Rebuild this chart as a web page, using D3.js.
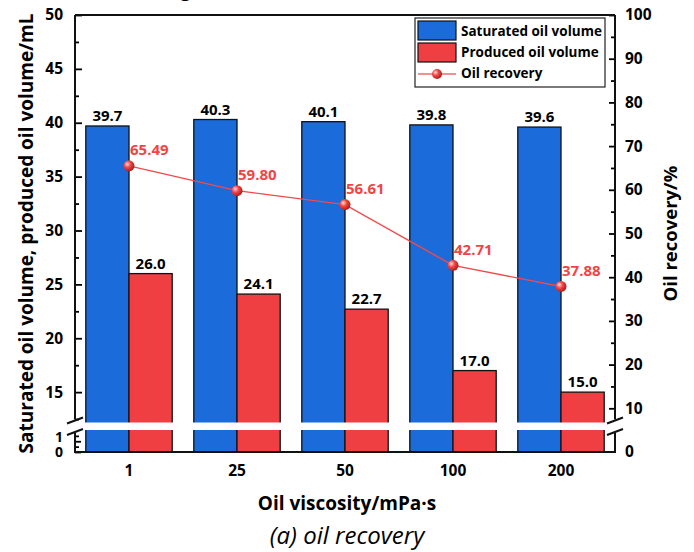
<!DOCTYPE html>
<html>
<head>
<meta charset="utf-8">
<script src="https://cdn.jsdelivr.net/npm/d3@7"></script>
<style>
  body { margin: 0; background: #fff; }
  svg { display: block; font-family: "Open Sans", sans-serif; }
</style>
</head>
<body>
<svg id="chart" width="694" height="552"></svg>
<script>
// data
const categories = ["1", "25", "50", "100", "200"];
const saturated = [39.7, 40.3, 40.1, 39.8, 39.6];
const produced = [26.0, 24.1, 22.7, 17.0, 15.0];
const recovery = [65.49, 59.80, 56.61, 42.71, 37.88];
const leftMajor = [15, 20, 25, 30, 35, 40, 45, 50];
const leftMinor = [12.5, 17.5, 22.5, 27.5, 32.5, 37.5, 42.5, 47.5];
const leftLowMajor = [0, 1];
const leftLowMinor = [0.5, 1.5];
const rightMajor = [0, 10, 20, 30, 40, 50, 60, 70, 80, 90, 100];
const rightMinor = [5, 15, 25, 35, 45, 55, 65, 75, 85, 95];

const svg = d3.select("#chart");
const plotL = 75, plotR = 615, plotT = 15, plotB = 452;
const gapTop = 422.5, gapBot = 430;

// broken left axis: 0..2 below the gap, 12.2..50 above it
const y = d3.scaleLinear()
  .domain([0, 2, 12.2, 50])
  .range([plotB, 430.5, 422.3, plotT]);
const y2 = d3.scaleLinear().domain([0, 100]).range([plotB, plotT]);

const x = d3.scaleBand().domain(categories).range([plotL, plotR]).paddingInner(0).paddingOuter(0);
const inner = d3.scaleBand().domain(["s", "p"]).range([0, x.bandwidth()]).paddingInner(0).paddingOuter(0.25);

const blue = "#1b6bdb", red = "#f03f42";

// cut-off text from the line above the figure
svg.append("text").attr("x", 180).attr("y", -4).attr("font-size", 20).text("g");

// gradient for markers
const grad = svg.append("defs").append("radialGradient")
  .attr("id", "ball").attr("cx", "35%").attr("cy", "35%").attr("r", "65%");
grad.append("stop").attr("offset", "0%").attr("stop-color", "#ffd8d8");
grad.append("stop").attr("offset", "45%").attr("stop-color", "#f04a4a");
grad.append("stop").attr("offset", "100%").attr("stop-color", "#b51d1d");

// bars
const groups = svg.append("g").selectAll("g").data(categories).join("g")
  .attr("transform", d => `translate(${x(d)},0)`);

groups.append("rect")
  .attr("x", inner("s")).attr("width", inner.bandwidth())
  .attr("y", (d, i) => y(saturated[i])).attr("height", (d, i) => y(0) - y(saturated[i]))
  .attr("fill", blue).attr("stroke", "#111").attr("stroke-width", 1.3);

groups.append("rect")
  .attr("x", inner("p")).attr("width", inner.bandwidth())
  .attr("y", (d, i) => y(produced[i])).attr("height", (d, i) => y(0) - y(produced[i]))
  .attr("fill", red).attr("stroke", "#111").attr("stroke-width", 1.3);

groups.append("text")
  .attr("x", inner("s") + inner.bandwidth() / 2)
  .attr("y", (d, i) => y(saturated[i]) - 5)
  .attr("text-anchor", "middle").attr("font-size", 15).attr("font-weight", "bold")
  .text((d, i) => saturated[i].toFixed(1));

groups.append("text")
  .attr("x", inner("p") + inner.bandwidth() / 2)
  .attr("y", (d, i) => y(produced[i]) - 5)
  .attr("text-anchor", "middle").attr("font-size", 15).attr("font-weight", "bold")
  .text((d, i) => produced[i].toFixed(1));

// axis break gap
svg.append("rect").attr("x", plotL - 6).attr("y", gapTop).attr("width", plotR - plotL + 12)
  .attr("height", gapBot - gapTop).attr("fill", "#fff");

// recovery line
const cx = d => x(d) + x.bandwidth() / 2;
svg.append("path")
  .datum(categories)
  .attr("fill", "none").attr("stroke", "#f04a4a").attr("stroke-width", 1.4)
  .attr("d", d3.line().x(d => cx(d)).y((d, i) => y2(recovery[i])));

svg.append("g").selectAll("circle").data(categories).join("circle")
  .attr("cx", d => cx(d)).attr("cy", (d, i) => y2(recovery[i])).attr("r", 5.5)
  .attr("fill", "url(#ball)");

svg.append("g").selectAll("text").data(categories).join("text")
  .attr("x", d => cx(d) + 1).attr("y", (d, i) => y2(recovery[i]) - 10.5)
  .attr("fill", "#f04545").attr("font-size", 15).attr("font-weight", "bold")
  .text((d, i) => recovery[i].toFixed(2));

// axes
function styleAxis(g) {
  g.select(".domain").remove();
  g.selectAll("line").attr("stroke", "#000").attr("stroke-width", 1.8);
  g.selectAll("text").attr("font-size", 15.5).attr("font-weight", "bold").attr("fill", "#000")
    .attr("font-family", "Open Sans, sans-serif");
}
const tickF = d => d;

svg.append("g").attr("transform", `translate(${plotL},0)`)
  .call(d3.axisLeft(y).tickValues(leftMajor).tickSize(-7).tickPadding(12).tickFormat(tickF))
  .call(styleAxis);
svg.append("g").attr("transform", `translate(${plotL},0)`)
  .call(d3.axisLeft(y).tickValues(leftMinor).tickSize(-4).tickFormat(""))
  .call(styleAxis);
const lowAxis = svg.append("g").attr("transform", `translate(${plotL},0)`)
  .call(d3.axisLeft(y).tickValues(leftLowMajor).tickSize(-6).tickPadding(12).tickFormat(tickF))
  .call(styleAxis);
lowAxis.selectAll("text").attr("font-size", 14);
lowAxis.selectAll(".tick").filter(d => d === 1).select("text").attr("dy", "0.05em");
svg.append("g").attr("transform", `translate(${plotL},0)`)
  .call(d3.axisLeft(y).tickValues(leftLowMinor).tickSize(-4).tickFormat(""))
  .call(styleAxis);

const rAxis = svg.append("g").attr("transform", `translate(${plotR},0)`)
  .call(d3.axisRight(y2).tickValues(rightMajor).tickSize(-6).tickPadding(10).tickFormat(tickF))
  .call(styleAxis);
rAxis.selectAll(".tick").filter(d => d === 0).select("line").remove();
svg.append("g").attr("transform", `translate(${plotR},0)`)
  .call(d3.axisRight(y2).tickValues(rightMinor).tickSize(-4).tickFormat(""))
  .call(styleAxis)
  .selectAll(".tick").filter(d => d === 5).remove();

svg.append("g").attr("transform", `translate(0,${plotB})`)
  .call(d3.axisBottom(x).tickSize(0).tickPadding(13))
  .call(styleAxis);

// frame
const frame = svg.append("g").attr("stroke", "#111").attr("stroke-width", 2).attr("fill", "none");
frame.append("line").attr("x1", plotL).attr("x2", plotR).attr("y1", plotT).attr("y2", plotT);
frame.append("line").attr("x1", plotL - 1).attr("x2", plotR + 1).attr("y1", plotB).attr("y2", plotB);
[plotL, plotR].forEach(px => {
  frame.append("line").attr("x1", px).attr("x2", px).attr("y1", plotT).attr("y2", gapTop - 3);
  frame.append("line").attr("x1", px).attr("x2", px).attr("y1", gapBot + 3).attr("y2", plotB);
  frame.append("line").attr("x1", px - 8).attr("x2", px + 8).attr("y1", gapTop + 1).attr("y2", gapTop - 5);
  frame.append("line").attr("x1", px - 8).attr("x2", px + 8).attr("y1", gapBot + 5).attr("y2", gapBot - 1);
});

// axis titles
svg.append("text")
  .attr("transform", `translate(33,${(plotT + plotB) / 2}) rotate(-90)`)
  .attr("text-anchor", "middle").attr("font-size", 19).attr("font-weight", "bold")
  .text("Saturated oil volume, produced oil volume/mL");
svg.append("text")
  .attr("transform", `translate(677,${(plotT + plotB) / 2}) rotate(-90)`)
  .attr("text-anchor", "middle").attr("font-size", 18.5).attr("font-weight", "bold")
  .text("Oil recovery/%");
svg.append("text")
  .attr("x", 347).attr("y", 510).attr("text-anchor", "middle")
  .attr("font-size", 19).attr("font-weight", "bold")
  .text("Oil viscosity/mPa·s");
svg.append("text")
  .attr("x", 347).attr("y", 544).attr("text-anchor", "middle")
  .attr("font-size", 24).attr("font-style", "italic")
  .text("(a) oil recovery");

// legend
const lg = svg.append("g").attr("transform", "translate(415,18)");
lg.append("rect").attr("width", 190).attr("height", 69).attr("fill", "#fff")
  .attr("stroke", "#222").attr("stroke-width", 1.2);
lg.append("rect").attr("x", 3).attr("y", 3).attr("width", 38).attr("height", 19)
  .attr("fill", blue).attr("stroke", "#111").attr("stroke-width", 1.2);
lg.append("rect").attr("x", 3).attr("y", 25).attr("width", 38).attr("height", 19)
  .attr("fill", red).attr("stroke", "#111").attr("stroke-width", 1.2);
lg.append("line").attr("x1", 3).attr("x2", 41).attr("y1", 56).attr("y2", 56)
  .attr("stroke", "#f06a6a").attr("stroke-width", 1.4);
lg.append("circle").attr("cx", 22).attr("cy", 56).attr("r", 5).attr("fill", "url(#ball)");
const lgText = ["Saturated oil volume", "Produced oil volume", "Oil recovery"];
lg.selectAll("text.lab").data(lgText).join("text").attr("class", "lab")
  .attr("x", 46).attr("y", (d, i) => 18 + i * 21)
  .attr("font-size", 13.5).attr("font-weight", "bold")
  .text(d => d);
</script>
</body>
</html>
